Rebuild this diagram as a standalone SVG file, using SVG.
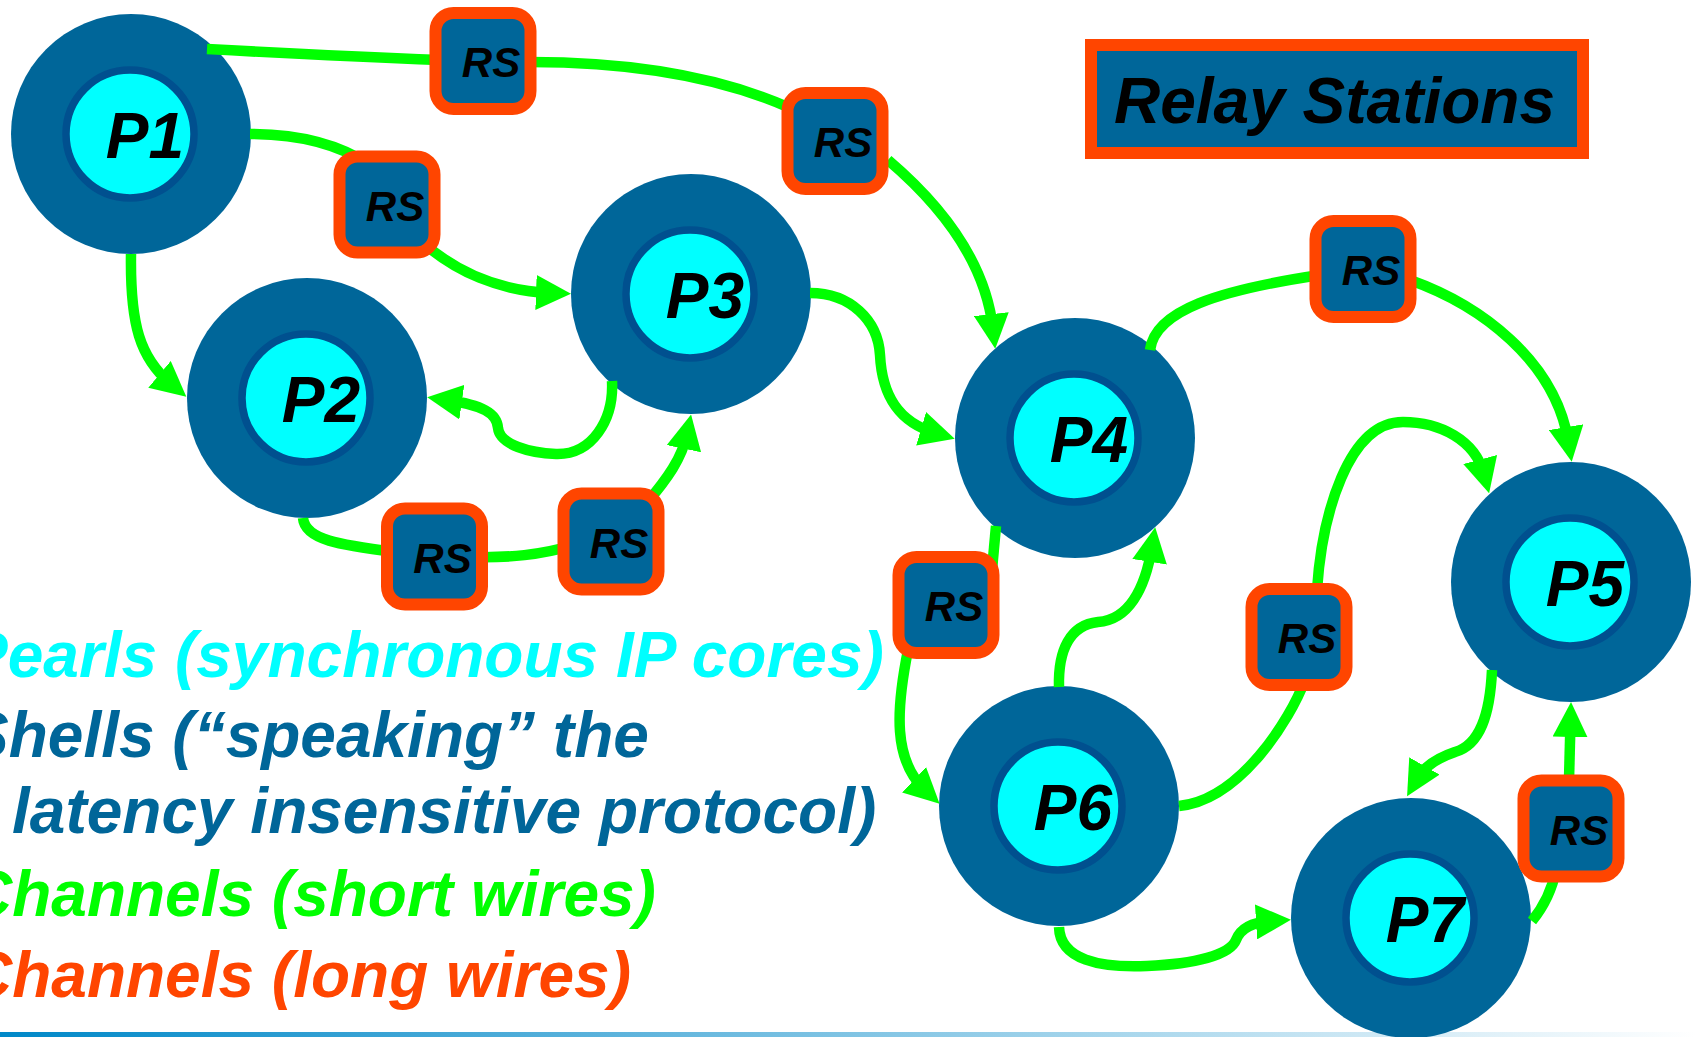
<svg xmlns="http://www.w3.org/2000/svg" width="1696" height="1037" viewBox="0 0 1696 1037">
<defs>
<linearGradient id="bar" x1="0" y1="0" x2="1" y2="0">
<stop offset="0" stop-color="#0088C8"/>
<stop offset="1" stop-color="#FFFFFF"/>
</linearGradient>
<marker id="ah" viewBox="0 0 35 35" refX="15" refY="17.5" markerWidth="35" markerHeight="35" markerUnits="userSpaceOnUse" orient="auto">
<path d="M0,0 L35,17.5 L0,35 z" fill="#00FF00"/>
</marker>
</defs>
<style>
.shell{fill:#006699}
.pearl{fill:#00FFFF;stroke:#00508F;stroke-width:7.5}
.t{font-family:"Liberation Sans",Arial,Helvetica,sans-serif;font-weight:bold;font-style:italic}
.plabel{font-size:64px;fill:#000;text-anchor:middle}
.rs rect{fill:#006699;stroke:#FF4500;stroke-width:12}
.rslabel{font-size:42px;fill:#000;text-anchor:middle}
.wire{fill:none;stroke:#00FF00;stroke-width:10.5}
.arrow{marker-end:url(#ah)}
.legend{font-size:64px}
</style>
<rect x="0" y="1032" width="1696" height="5" fill="url(#bar)"/>

<g id="P1"><circle class="shell" cx="131" cy="134" r="120"/><circle class="pearl" cx="130" cy="134" r="64"/><text class="t plabel" x="145" y="158">P1</text></g>
<g id="P2"><circle class="shell" cx="307" cy="398" r="120"/><circle class="pearl" cx="306" cy="398" r="64"/><text class="t plabel" x="321" y="422">P2</text></g>
<g id="P3"><circle class="shell" cx="691" cy="294" r="120"/><circle class="pearl" cx="690" cy="294" r="64"/><text class="t plabel" x="705" y="318">P3</text></g>
<g id="P4"><circle class="shell" cx="1075" cy="438" r="120"/><circle class="pearl" cx="1074" cy="438" r="64"/><text class="t plabel" x="1089" y="462">P4</text></g>
<g id="P5"><circle class="shell" cx="1571" cy="582" r="120"/><circle class="pearl" cx="1570" cy="582" r="64"/><text class="t plabel" x="1585" y="606">P5</text></g>
<g id="P6"><circle class="shell" cx="1059" cy="806" r="120"/><circle class="pearl" cx="1058" cy="806" r="64"/><text class="t plabel" x="1073" y="830">P6</text></g>
<g id="P7"><circle class="shell" cx="1411" cy="918" r="120"/><circle class="pearl" cx="1410" cy="918" r="64"/><text class="t plabel" x="1425" y="942">P7</text></g>

<g id="connectors">
<path class="wire" d="M207,49 C280,53 360,57 440,60"/>
<path class="wire" d="M530,62 C600,62 700,68 790,108"/>
<path class="wire arrow" d="M888,160 C935,200 985,258 993,329"/>
<path class="wire" d="M250,134 C300,134 340,145 370,165"/>
<path class="wire arrow" d="M420,240 C455,272 500,291 551,293"/>
<path class="wire arrow" d="M131,254 C130,325 140,358 171,384"/>
<path class="wire arrow" d="M612,381 C614,420 592,455 556,454 C530,453 500,445 498,428 C497,413 482,405 447,400"/>
<path class="wire" d="M303,518 C305,540 340,545 395,552"/>
<path class="wire" d="M470,557 C510,558 540,555 575,545"/>
<path class="wire arrow" d="M645,505 C668,478 682,458 687,434"/>
<path class="wire arrow" d="M810,293 C850,293 878,320 880,355 C882,395 898,422 935.5,433"/>
<path class="wire" d="M1150,350 C1155,310 1220,290 1320,275"/>
<path class="wire arrow" d="M1410,280 C1480,305 1555,360 1568.5,442"/>
<path class="wire" d="M996,526 L992,570"/>
<path class="wire arrow" d="M908,650 C896,710 893,760 925,790"/>
<path class="wire arrow" d="M1059,687 C1058,650 1070,625 1098,622 C1128,620 1145,590 1152,547"/>
<path class="wire" d="M1179,806 C1240,800 1290,720 1305,680"/>
<path class="wire arrow" d="M1317,590 C1322,515 1348,422 1403,422 C1440,422 1475,440 1484,474"/>
<path class="wire arrow" d="M1492,670 C1490,715 1480,745 1455,752 C1440,757 1425,765 1417,779"/>
<path class="wire" d="M1532,921 C1545,905 1552,890 1556,870"/>
<path class="wire arrow" d="M1569,780 L1570.5,722"/>
<path class="wire arrow" d="M1059,927 C1060,960 1100,968 1147,966 C1195,964 1230,955 1236,940 C1241,927 1255,922 1271,921"/>
</g>

<g id="RS1" class="rs" transform="translate(483,61)"><rect x="-47.5" y="-48" width="95" height="96" rx="18"/><text class="t rslabel" x="8" y="16">RS</text></g>
<g id="RS2" class="rs" transform="translate(387,204.5)"><rect x="-47.5" y="-48" width="95" height="96" rx="18"/><text class="t rslabel" x="8" y="16">RS</text></g>
<g id="RS3" class="rs" transform="translate(835,141)"><rect x="-47.5" y="-48" width="95" height="96" rx="18"/><text class="t rslabel" x="8" y="16">RS</text></g>
<g id="RS4" class="rs" transform="translate(1363,269)"><rect x="-47.5" y="-48" width="95" height="96" rx="18"/><text class="t rslabel" x="8" y="16">RS</text></g>
<g id="RS5" class="rs" transform="translate(434.5,556.5)"><rect x="-47.5" y="-48" width="95" height="96" rx="18"/><text class="t rslabel" x="8" y="16">RS</text></g>
<g id="RS6" class="rs" transform="translate(611,541.5)"><rect x="-47.5" y="-48" width="95" height="96" rx="18"/><text class="t rslabel" x="8" y="16">RS</text></g>
<g id="RS7" class="rs" transform="translate(946,605)"><rect x="-47.5" y="-48" width="95" height="96" rx="18"/><text class="t rslabel" x="8" y="16">RS</text></g>
<g id="RS8" class="rs" transform="translate(1299,637)"><rect x="-47.5" y="-48" width="95" height="96" rx="18"/><text class="t rslabel" x="8" y="16">RS</text></g>
<g id="RS9" class="rs" transform="translate(1571,828.5)"><rect x="-47.5" y="-48" width="95" height="96" rx="18"/><text class="t rslabel" x="8" y="16">RS</text></g>

<g id="title">
<rect x="1091" y="45" width="492" height="108" fill="#006699" stroke="#FF4500" stroke-width="12"/>
<text class="t" x="1114" y="123" font-size="64" fill="#000">Relay Stations</text>
</g>

<g id="legend">
<text class="t legend" x="-35" y="677" fill="#00FFFF">Pearls (synchronous IP cores)</text>
<text class="t legend" x="-34" y="757" fill="#006699">Shells (“speaking” the</text>
<text class="t legend" x="12" y="833" fill="#006699">latency insensitive protocol)</text>
<text class="t legend" x="-34" y="916" fill="#00FF00">Channels (short wires)</text>
<text class="t legend" x="-34" y="997" fill="#FF4500">Channels (long wires)</text>
</g>
</svg>
